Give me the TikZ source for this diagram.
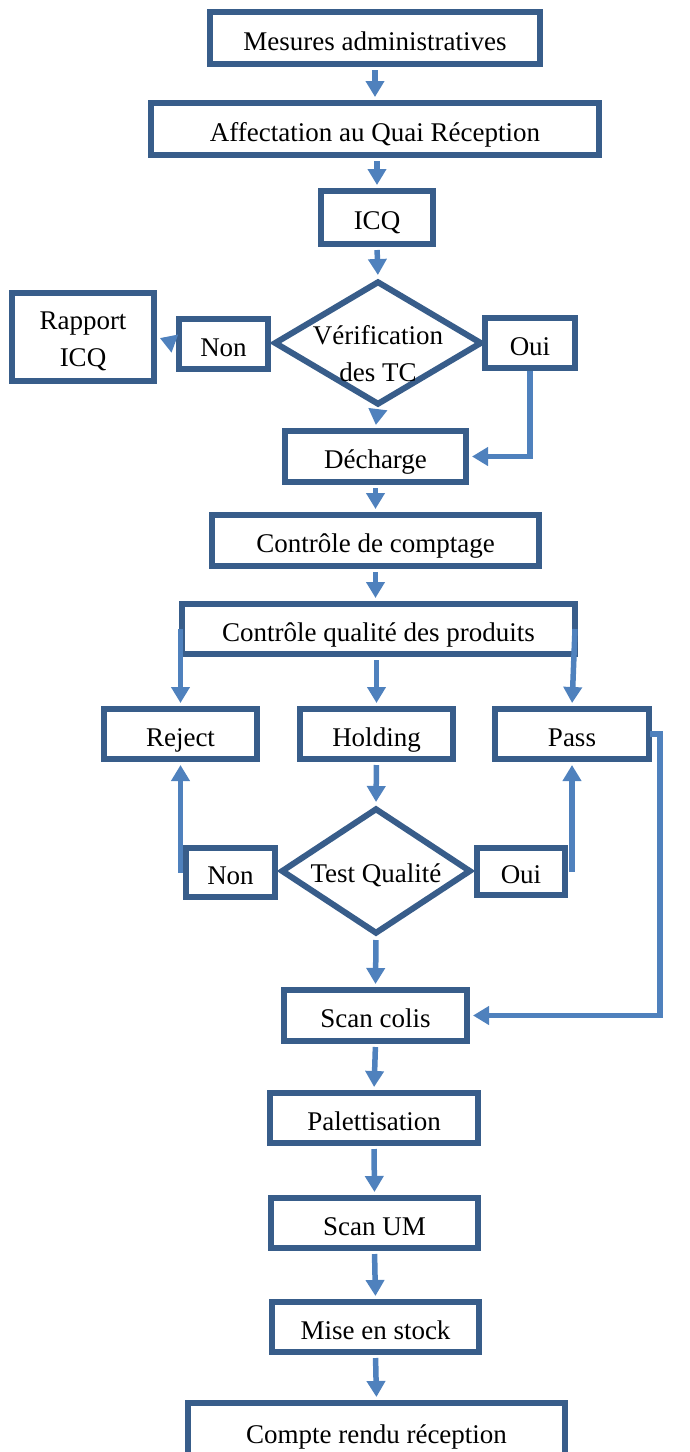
\documentclass[tikz,border=0pt]{standalone}
\usepackage{fontspec}
\setmainfont{Liberation Serif}
\usetikzlibrary{shapes.geometric,arrows.meta}
\definecolor{boxblue}{HTML}{385D8A}
\definecolor{linkblue}{HTML}{4F81BD}

\begin{document}
\begin{tikzpicture}[x=1pt,y=-1pt,
  txt/.style={font=\fontsize{27}{37}\selectfont, align=center},
  box/.style={txt, draw=boxblue, line width=6pt, fill=white, rectangle, inner sep=0pt,
    text height=28pt, text depth=4pt},
  dia/.style={draw=boxblue, line width=6pt, fill=white, diamond, inner sep=0pt},
  lbl/.style={txt, inner sep=0pt},
  arr/.style={draw=linkblue, line width=5.5pt, -{Triangle[width=18pt,length=16pt]}, shorten >=3pt},
  link/.style={draw=linkblue, line width=5.5pt}]
\useasboundingbox (0,0) rectangle (689,1452);
\clip (0,0) rectangle (689,1452);

% main column
\node[box, minimum width=330, minimum height=52] (mes) at (375,38) {Mesures administratives};
\node[box, minimum width=448, minimum height=52] (aff) at (375,129) {Affectation au Quai Réception};
\node[box, minimum width=112, minimum height=53] (icq) at (377,217.5) {ICQ};

% first decision
\node[dia, minimum width=208, minimum height=124] (d1) at (378,343) {};
\node[lbl] (d1t) at (378,354) {Vérification\\des TC};
\node[box, minimum width=142, minimum height=88] (rap) at (83,337) {};
\node[lbl] (rapt) at (83,341) {Rapport\\ICQ};
\node[box, minimum width=89, minimum height=50] (non1) at (223.5,344) {Non};
\node[box, minimum width=90, minimum height=50] (oui1) at (530,343) {Oui};

\node[box, minimum width=181, minimum height=51] (dech) at (375.5,456.5) {Décharge};
\node[box, minimum width=327, minimum height=51] (cpt) at (375.5,540.5) {Contrôle de comptage};
\node[box, minimum width=393, minimum height=50] (cq) at (378.5,629) {Contrôle qualité des produits};

% quality outcomes
\node[box, minimum width=153, minimum height=50] (rej) at (180.5,734) {Reject};
\node[box, minimum width=153, minimum height=50] (hold) at (376.5,734) {Holding};
\node[box, minimum width=154, minimum height=50] (pass) at (572,734) {Pass};

% second decision
\node[dia, minimum width=190, minimum height=126] (d2) at (376,871) {};
\node[lbl] (d2t) at (376,875) {Test Qualité};
\node[box, minimum width=89, minimum height=49] (non2) at (230.5,872.5) {Non};
\node[box, minimum width=88, minimum height=47] (oui2) at (521,871.5) {Oui};

% final column
\node[box, minimum width=183, minimum height=51] (scan) at (375.5,1015.5) {Scan colis};
\node[box, minimum width=208, minimum height=50] (pal) at (374,1118) {Palettisation};
\node[box, minimum width=207, minimum height=50] (sum) at (374.5,1223) {Scan UM};
\node[box, minimum width=207, minimum height=50] (mis) at (375.5,1327) {Mise en stock};
\node[box, minimum width=377, minimum height=56] (crr) at (376.5,1431) {Compte rendu réception};

% connectors
\draw[arr, shorten <=3pt] (mes.south) -- (aff.north);
\draw[arr, shorten <=3pt] (aff.south -| icq.north) -- (icq.north);
\draw[arr, shorten <=3pt] (icq.south) -- (d1.north);
\draw[arr, shorten <=3pt] (non1.west) -- (rap.east);
\draw[arr] (oui1.south) |- (dech.east);
\draw[arr, shorten <=3pt] (d1.south) -- (dech.north);
\draw[arr, shorten <=3pt] (dech.south) -- (cpt.north);
\draw[arr, shorten <=3pt] (cpt.south) -- (cpt.south |- cq.north);

\draw[arr] (rej.north |- cq.center) -- (rej.north);
\draw[arr, shorten <=3pt] (hold.north |- cq.south) -- (hold.north);
\draw[arr] ([xshift=-3pt]cq.east) -- (pass.north);

\draw[arr, shorten <=3pt] (hold.south) -- (d2.north);
\draw[arr] (rej.south |- non2.center) -- (rej.south);
\draw[arr] (pass.south |- oui2.center) -- (pass.south);
\draw[arr] ([xshift=-2pt]pass.east) -- ++(10,0) |- (scan.east);
\draw[arr, shorten <=3pt] (d2.south) -- (scan.north);

\draw[arr, shorten <=3pt] (scan.south) -- (pal.north);
\draw[arr, shorten <=3pt] (pal.south) -- (sum.north);
\draw[arr, shorten <=3pt] (sum.south) -- (mis.north);
\draw[arr, shorten <=3pt] (mis.south) -- (crr.north);
\end{tikzpicture}
\end{document}
